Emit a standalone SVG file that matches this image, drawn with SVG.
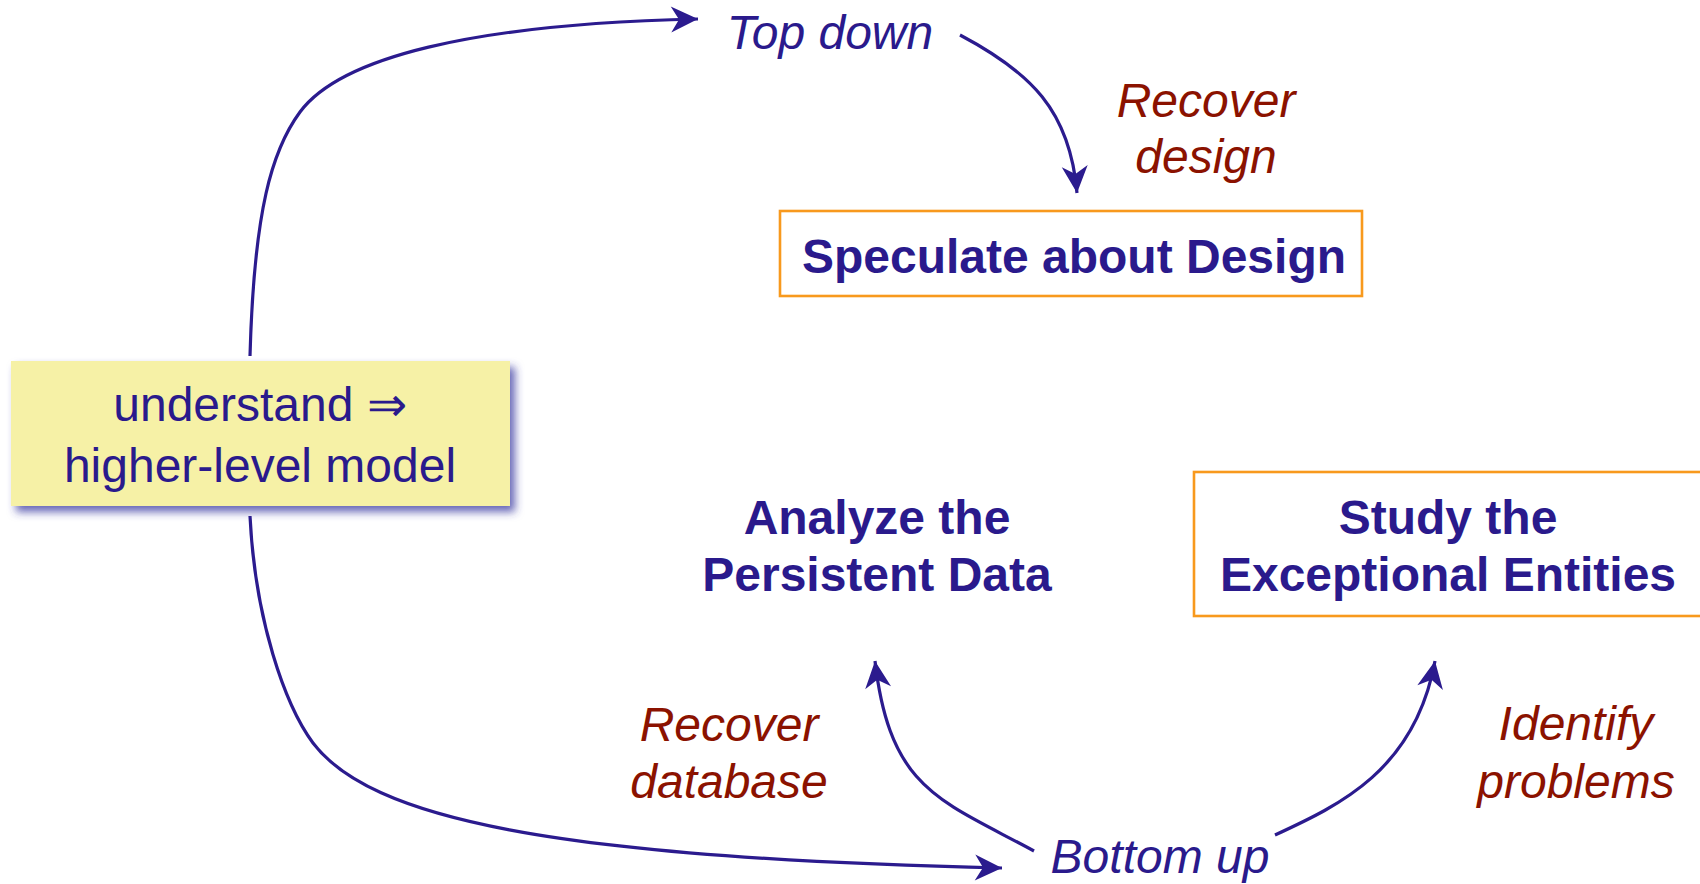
<svg xmlns="http://www.w3.org/2000/svg" width="1700" height="884" viewBox="0 0 1700 884">
<style>
.t{font-family:"Liberation Sans",Arial,Helvetica,sans-serif;font-size:48px;text-anchor:middle}
.blue{fill:#2a1a8c}
.red{fill:#8b1200}
.it{font-style:italic}
.b{font-weight:bold}
.box{fill:#ffffff;stroke:#f8991d;stroke-width:2.6}
.conn{fill:none;stroke:#2b1b8e;stroke-width:3.2;marker-end:url(#ah)}
</style>
<defs>
<marker id="ah" markerUnits="userSpaceOnUse" viewBox="-30 -15 32 30" markerWidth="32" markerHeight="30" refX="0" refY="0" orient="auto">
<path d="M0,0 L-27,-13 L-19,0 L-27,13 Z" fill="#2b1b8e"/>
</marker>
<filter id="sh" x="-10%" y="-20%" width="130%" height="150%">
<feDropShadow dx="5" dy="6" stdDeviation="4" flood-color="#3434a0" flood-opacity="0.75"/>
</filter>
</defs>
<rect width="1700" height="884" fill="#ffffff"/>
<g id="connectors">
<path class="conn" d="M250,356 C254,210 272,150 300,112 C340,58 470,24 698,19"/>
<path class="conn" d="M250,516 C255,620 285,705 313,743 C370,818 550,858 1002,868"/>
<path class="conn" d="M960,35 C1030,72 1070,110 1077,193"/>
<path class="conn" d="M1034,851 C940,800 890,790 875,661"/>
<path class="conn" d="M1275,835 C1340,805 1415,770 1435,661"/>
</g>
<g id="understand">
<rect x="11" y="361" width="499" height="145" fill="#f6f1a6" filter="url(#sh)"/>
<text class="t blue" x="260" y="421">understand ⇒</text>
<text class="t blue" x="260" y="482">higher-level model</text>
</g>
<g id="topdown">
<text class="t blue it" x="830" y="49">Top down</text>
</g>
<g id="recover-design">
<text class="t red it" x="1206" y="117">Recover</text>
<text class="t red it" x="1206" y="173">design</text>
</g>
<g id="speculate">
<rect class="box" x="780" y="211" width="582" height="85"/>
<text class="t blue b" x="1074" y="273">Speculate about Design</text>
</g>
<g id="analyze">
<text class="t blue b" x="877" y="534">Analyze the</text>
<text class="t blue b" x="877" y="591">Persistent Data</text>
</g>
<g id="study">
<rect class="box" x="1194" y="472" width="520" height="144"/>
<text class="t blue b" x="1448" y="534">Study the</text>
<text class="t blue b" x="1448" y="591">Exceptional Entities</text>
</g>
<g id="recover-database">
<text class="t red it" x="729" y="741">Recover</text>
<text class="t red it" x="729" y="798">database</text>
</g>
<g id="identify">
<text class="t red it" x="1576" y="740">Identify</text>
<text class="t red it" x="1576" y="798">problems</text>
</g>
<g id="bottomup">
<text class="t blue it" x="1160" y="873">Bottom up</text>
</g>
</svg>
